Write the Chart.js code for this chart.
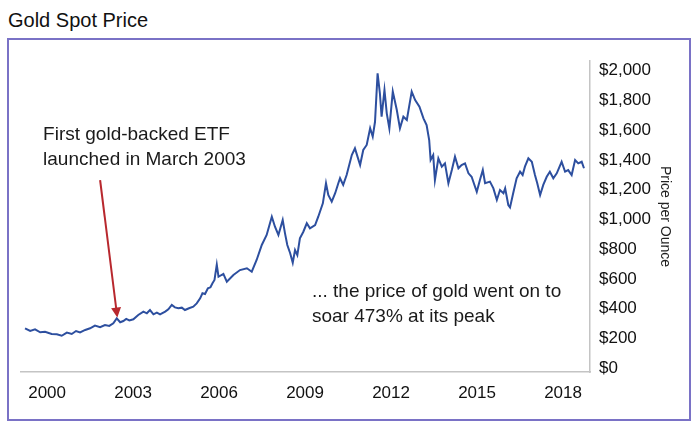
<!DOCTYPE html>
<html>
<head>
<meta charset="utf-8">
<script src="https://cdn.jsdelivr.net/npm/chart.js@4.4.0/dist/chart.umd.min.js"></script>
<style>
  body { margin: 0; background: #fff; width: 700px; height: 429px; position: relative; overflow: hidden; }
  #title { position: absolute; left: 8px; top: 10px; font: 20px "Liberation Sans", Arial, sans-serif; line-height: 20px; color: #111; }
  #box { position: absolute; left: 7px; top: 38px; width: 684px; height: 383px; border: 2px solid #7a72c6; box-sizing: border-box; }
  #wrap { position: absolute; left: 9px; top: 40px; width: 680px; height: 379px; }
</style>
</head>
<body>
<div id="title">Gold Spot Price</div>
<div id="box"></div>
<div id="wrap"><canvas id="goldchart"></canvas></div>
<script>
// 금 가격 (그림에서 읽은 값, 연도는 소수)
const years = [
  1999.23, 1999.41, 1999.58, 1999.76, 1999.93, 2000.16, 2000.34, 2000.51, 2000.69, 2000.86,
  2001.01, 2001.15, 2001.33, 2001.50, 2001.67, 2001.85, 2002.02, 2002.17, 2002.31, 2002.43,
  2002.55, 2002.66, 2002.76, 2002.87, 2003.01, 2003.18, 2003.36, 2003.48, 2003.59, 2003.71,
  2003.83, 2003.94, 2004.12, 2004.23, 2004.35, 2004.46, 2004.58, 2004.70, 2004.81, 2004.95,
  2005.10, 2005.22, 2005.34, 2005.42, 2005.51, 2005.61, 2005.70, 2005.77, 2005.84, 2005.92,
  2005.98, 2006.15, 2006.27, 2006.50, 2006.73, 2006.97, 2007.14, 2007.31, 2007.49,
  2007.66, 2007.84, 2007.95, 2008.07, 2008.22, 2008.30, 2008.38, 2008.48, 2008.57, 2008.65,
  2008.73, 2008.82, 2008.94, 2009.06, 2009.17, 2009.35, 2009.46, 2009.62, 2009.73, 2009.81,
  2009.93, 2010.05, 2010.16, 2010.22, 2010.33, 2010.45, 2010.63, 2010.74, 2010.92, 2011.03,
  2011.15, 2011.27, 2011.36, 2011.44, 2011.53, 2011.61, 2011.67, 2011.77, 2011.85, 2011.94,
  2012.06, 2012.20, 2012.31, 2012.43, 2012.55, 2012.72, 2012.84, 2012.99, 2013.13, 2013.24,
  2013.33, 2013.38, 2013.47, 2013.53, 2013.65, 2013.77, 2013.88, 2014.00, 2014.12, 2014.23,
  2014.35, 2014.46, 2014.58, 2014.70, 2014.81, 2014.99, 2015.10, 2015.20, 2015.28, 2015.45,
  2015.57, 2015.69, 2015.80, 2015.92, 2015.98, 2016.09, 2016.15, 2016.26, 2016.38, 2016.50,
  2016.59, 2016.67, 2016.79, 2016.91, 2017.02, 2017.10, 2017.20, 2017.31, 2017.43, 2017.54,
  2017.66, 2017.78, 2017.95, 2018.07, 2018.18, 2018.30, 2018.42, 2018.53, 2018.65, 2018.73
];
const prices = [
  267, 249, 260, 240, 244, 229, 227, 217, 238, 229,
  249, 240, 256, 267, 285, 274, 289, 283, 301, 334,
  308, 316, 330, 320, 328, 357, 379, 368, 390, 361,
  372, 361, 379, 395, 424, 408, 402, 406, 390, 402,
  413, 435, 469, 503, 498, 536, 543, 570, 592, 695,
  614, 633, 581, 626, 659, 671, 648, 727, 828,
  895, 1018, 951, 895, 996, 906, 828, 772, 709, 794,
  760, 873, 917, 974, 940, 962, 1018, 1108, 1243, 1164,
  1119, 1176, 1243, 1277, 1232, 1299, 1433, 1478, 1366, 1467,
  1501, 1613, 1557, 1657, 1983, 1849, 1691, 1871, 1714, 1613,
  1860, 1736, 1613, 1691, 1669, 1860, 1803, 1758, 1680, 1635,
  1534, 1400, 1433, 1265, 1411, 1355, 1377, 1243, 1332, 1422,
  1344, 1366, 1377, 1310, 1287, 1186, 1265, 1332, 1243, 1254,
  1209, 1131, 1198, 1176, 1209, 1097, 1081, 1176, 1277, 1321,
  1299, 1355, 1411, 1388, 1299, 1243, 1164, 1232, 1287, 1321,
  1277, 1310, 1388, 1321, 1332, 1299, 1400, 1377, 1388, 1344
];
const xTicks = [2000, 2003, 2006, 2009, 2012, 2015, 2018];
const yTicks = [0, 200, 400, 600, 800, 1000, 1200, 1400, 1600, 1800, 2000];

const font = "'Liberation Sans', Arial, sans-serif";

// 화살표와 설명 글
const notes = {
  id: "notes",
  afterDatasetsDraw(chart) {
    const { ctx, scales: { x, y } } = chart;
    ctx.save();
    ctx.fillStyle = "#1a1a1a";
    ctx.font = "19px " + font;
    ctx.textBaseline = "alphabetic";
    ctx.textAlign = "left";
    ctx.fillText("First gold-backed ETF", x.getPixelForValue(1999.86), y.getPixelForValue(1531));
    ctx.fillText("launched in March 2003", x.getPixelForValue(1999.86), y.getPixelForValue(1363));
    ctx.fillText("... the price of gold went on to", x.getPixelForValue(2009.24), y.getPixelForValue(480));
    ctx.fillText("soar 473% at its peak", x.getPixelForValue(2009.24), y.getPixelForValue(312));

    const x0 = x.getPixelForValue(2001.85), y0 = y.getPixelForValue(1265);
    const x1 = x.getPixelForValue(2002.45), y1 = y.getPixelForValue(340);
    const a = Math.atan2(y1 - y0, x1 - x0);
    ctx.strokeStyle = "#b8282e";
    ctx.fillStyle = "#b8282e";
    ctx.lineWidth = 2;
    ctx.beginPath();
    ctx.moveTo(x0, y0);
    ctx.lineTo(x1 - 8 * Math.cos(a), y1 - 8 * Math.sin(a));
    ctx.stroke();
    ctx.beginPath();
    ctx.moveTo(x1, y1);
    ctx.lineTo(x1 - 10 * Math.cos(a) + 5 * Math.sin(a), y1 - 10 * Math.sin(a) - 5 * Math.cos(a));
    ctx.lineTo(x1 - 10 * Math.cos(a) - 5 * Math.sin(a), y1 - 10 * Math.sin(a) + 5 * Math.cos(a));
    ctx.closePath();
    ctx.fill();
    ctx.restore();
  },
};

new Chart(document.getElementById("goldchart"), {
  type: "line",
  data: {
    datasets: [
      {
        label: "Gold",
        data: years.map((yr, i) => ({ x: yr, y: prices[i] })),
        borderColor: "#2d4f9f",
        borderWidth: 2,
        pointRadius: 0,
        tension: 0,
      },
    ],
  },
  options: {
    responsive: true,
    maintainAspectRatio: false,
    animation: false,
    layout: { padding: { left: 12, top: 21, right: 0, bottom: 0 } },
    plugins: { legend: { display: false }, tooltip: { enabled: false } },
    scales: {
      x: {
        type: "linear",
        min: 1999.09,
        max: 2018.94,
        grid: { display: false, drawTicks: false },
        border: { display: true, color: "#c4c4c4", width: 1.5 },
        afterBuildTicks: (axis) => { axis.ticks = xTicks.map((v) => ({ value: v })); },
        afterFit: (axis) => { axis.height = 47; },
        ticks: {
          padding: 11,
          color: "#111",
          font: { family: font, size: 17 },
          callback: (v) => String(v),
          maxRotation: 0,
        },
      },
      y: {
        position: "right",
        min: -27,
        max: 2066,
        grid: { display: false, drawTicks: false },
        border: { display: true, color: "#c4c4c4", width: 1.5 },
        afterBuildTicks: (axis) => { axis.ticks = yTicks.map((v) => ({ value: v })); },
        afterFit: (axis) => { axis.width = 99; },
        ticks: {
          padding: 9,
          color: "#111",
          font: { family: font, size: 17 },
          callback: (v) => "$" + v.toLocaleString("en-US"),
        },
        title: {
          display: true,
          text: "Price per Ounce",
          color: "#222",
          font: { family: font, size: 14 },
          padding: { top: 16, bottom: 0 },
        },
      },
    },
  },
  plugins: [notes],
});
</script>
</body>
</html>
